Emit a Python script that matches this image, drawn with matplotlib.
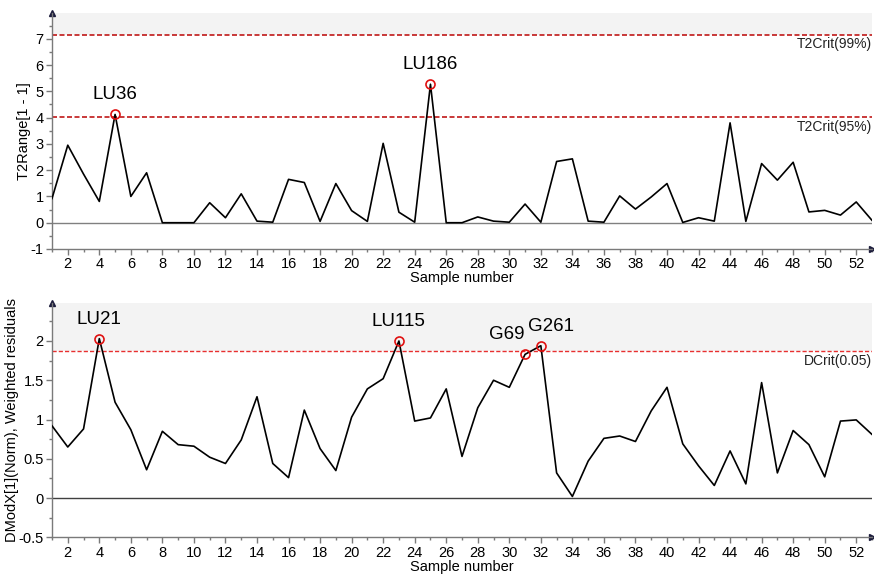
import matplotlib
matplotlib.use("Agg")
import matplotlib.pyplot as plt
from matplotlib.ticker import MultipleLocator, FixedLocator, FuncFormatter

plt.rcParams['font.family'] = ['Liberation Sans', 'DejaVu Sans']
plt.rcParams['axes.unicode_minus'] = False

# Sample numbers
samples = list(range(1, 54))

# Hotelling's T2 range per sample
t2_values = [0.92, 2.95, 1.85, 0.81, 4.12, 1.00, 1.90, 0.00, 0.00, 0.00,
             0.76, 0.19, 1.10, 0.06, 0.02, 1.65, 1.53, 0.05, 1.49, 0.46,
             0.05, 3.02, 0.40, 0.02, 5.27, 0.00, 0.00, 0.22, 0.06, 0.02,
             0.71, 0.02, 2.33, 2.43, 0.06, 0.02, 1.02, 0.52, 0.98, 1.49,
             0.01, 0.19, 0.06, 3.80, 0.05, 2.25, 1.62, 2.30, 0.41, 0.47,
             0.29, 0.79, 0.09]
t2_crit95 = 4.01
t2_crit99 = 7.15

# Normalised distance to model (DModX)
dmodx_values = [0.92, 0.65, 0.88, 2.03, 1.22, 0.87, 0.36, 0.85, 0.68, 0.66,
                0.52, 0.44, 0.74, 1.29, 0.44, 0.26, 1.12, 0.63, 0.35, 1.03,
                1.39, 1.52, 2.00, 0.98, 1.02, 1.39, 0.53, 1.15, 1.50, 1.41,
                1.83, 1.94, 0.32, 0.02, 0.47, 0.76, 0.79, 0.72, 1.11, 1.41,
                0.69, 0.41, 0.16, 0.60, 0.18, 1.47, 0.32, 0.86, 0.68, 0.27,
                0.98, 0.995, 0.81]
dcrit = 1.872

# Flagged observations: (sample number, label)
t2_flags = [(5, "LU36"), (25, "LU186")]
dmodx_flags = [(4, "LU21"), (23, "LU115"), (31, "G69"), (32, "G261")]

fig = plt.figure(figsize=(8.74, 5.74), dpi=100)
ax1 = fig.add_axes([52 / 874, 1 - 249 / 574, 820 / 874, 236 / 574])
ax2 = fig.add_axes([52 / 874, 1 - 537.3 / 574, 820 / 874, 234 / 574])

spine_col = '#7a7a7a'
arrow_col = '#1c1c3c'


def plain_number(v, pos):
    return f"{v:g}"


def style_axes(ax, ylim, ymajor, ylabel, label_x):
    ax.set_xlim(1, 53)
    ax.set_ylim(*ylim)
    for s in ('top', 'right'):
        ax.spines[s].set_visible(False)
    for s in ('left', 'bottom'):
        ax.spines[s].set_color(spine_col)
        ax.spines[s].set_linewidth(1.0)
    ax.xaxis.set_major_locator(FixedLocator(list(range(2, 53, 2))))
    ax.xaxis.set_minor_locator(MultipleLocator(1))
    ax.yaxis.set_major_locator(MultipleLocator(ymajor))
    ax.yaxis.set_minor_locator(MultipleLocator(ymajor / 2))
    ax.yaxis.set_major_formatter(FuncFormatter(plain_number))
    ax.tick_params(which='major', direction='out', length=4, width=1,
                   color=spine_col, labelsize=10.5, pad=2)
    ax.tick_params(which='minor', direction='out', length=2.5, width=1,
                   color=spine_col)
    ax.set_xlabel("Sample number", fontsize=10.5, labelpad=0)
    ax.set_ylabel(ylabel, fontsize=10.5)
    ax.yaxis.set_label_coords(label_x, 0.5)
    ax.plot(0, 1, marker='^', color=arrow_col, markersize=5,
            transform=ax.transAxes, clip_on=False)
    ax.plot(1, 0, marker='>', color=arrow_col, markersize=5,
            transform=ax.transAxes, clip_on=False)


def flag_points(ax, flags, values, offsets):
    for (num, label), dx in zip(flags, offsets):
        yv = values[samples.index(num)]
        ax.plot(num, yv, 'o', markersize=6.5, markerfacecolor='none',
                markeredgecolor='#e01010', markeredgewidth=1.2, zorder=5)
        ax.annotate(label, (num, yv), xytext=(dx, 8),
                    textcoords='offset points', ha='center', va='bottom',
                    fontsize=13.5)


# Top panel: T2 range
style_axes(ax1, (-1, 7.98), 1, "T2Range[1 - 1]", -0.025)
ax1.axhspan(t2_crit99, 7.98, color='#f3f3f3', zorder=0, lw=0)
ax1.axhline(0, color='#808080', lw=1.0, zorder=1)
for crit, txt in ((t2_crit99, "T2Crit(99%)"), (t2_crit95, "T2Crit(95%)")):
    ax1.axhline(crit, color='#c01818', lw=1.2, ls=(0, (3, 1.5)), zorder=2)
    ax1.text(1.0, crit - 0.1, txt, transform=ax1.get_yaxis_transform(),
             ha='right', va='top', fontsize=10, color='#222222')
ax1.plot(samples, t2_values, color='black', lw=1.2, zorder=3)
flag_points(ax1, t2_flags, t2_values, [0, 0])

# Bottom panel: DModX
style_axes(ax2, (-0.5, 2.48), 0.5, "DModX[1](Norm), Weighted residuals", -0.04)
ax2.axhspan(dcrit, 2.48, color='#f3f3f3', zorder=0, lw=0)
ax2.axhline(0, color='#404040', lw=1.0, zorder=1)
ax2.axhline(dcrit, color='#e83030', lw=1.0, ls=(0, (3, 1.5)), zorder=2)
ax2.text(1.0, dcrit - 0.04, "DCrit(0.05)", transform=ax2.get_yaxis_transform(),
         ha='right', va='top', fontsize=10, color='#222222')
ax2.plot(samples, dmodx_values, color='black', lw=1.2, zorder=3)
flag_points(ax2, dmodx_flags, dmodx_values, [0, 0, -13, 7])

fig.savefig("out.png", dpi=100)
